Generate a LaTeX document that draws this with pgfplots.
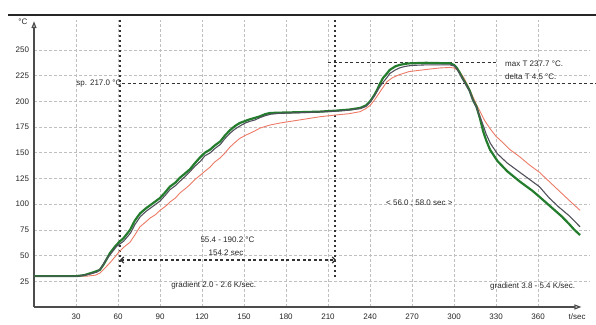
\documentclass[border=0pt]{standalone}
\usepackage{fontspec}
\setmainfont{Liberation Sans}
\usepackage{pgfplots}
\pgfplotsset{compat=1.18}
\usetikzlibrary{arrows.meta}
\definecolor{cgreen}{RGB}{35,125,45}
\definecolor{cgray}{RGB}{80,80,92}
\definecolor{cred}{RGB}{236,122,102}
\begin{document}
\begin{tikzpicture}
\begin{axis}[
  x=1.4pt, y=1.028pt,
  xmin=0, xmax=397, ymin=0, ymax=279,
  axis line style={draw=none},
  xtick={30,60,...,360}, ytick={25,50,...,250},
  major tick length=0pt,
  grid=major,
  grid style={black!25, dash pattern=on 2.5pt off 2.5pt, line width=0.6pt},
  tick label style={font=\fontsize{8}{9}\selectfont, text=black!85},
  /pgf/number format/assume math mode=true,
  xticklabel style={yshift=-3pt},
  yticklabel style={xshift=-1.5pt},
  clip=false,
  every axis plot/.append style={line join=round},
]
% frame line and axes
\draw[line width=1.4pt, black!85] (axis cs:-18.6,284) -- (axis cs:401.4,284);
\draw[line width=1.2pt, black!70, -{Triangle[open,length=7pt,width=5pt]}] (axis cs:0,0) -- (axis cs:391,0);
\draw[line width=1.2pt, black!70, -{Triangle[open,length=7pt,width=5pt]}] (axis cs:0,0) -- (axis cs:0,278);

% annotation lines
\draw[black!80, line width=1.1pt, dash pattern=on 2.5pt off 2.5pt] (axis cs:61.4,29) -- (axis cs:61.4,281);
\draw[black!80, line width=1.1pt, dash pattern=on 2.5pt off 2.5pt] (axis cs:215,29) -- (axis cs:215,281);
\draw[black!80, line width=1.1pt, dash pattern=on 3pt off 2.5pt] (axis cs:63,217) -- (axis cs:401.4,217);
\draw[black!80, line width=1.1pt, dash pattern=on 3pt off 2.5pt] (axis cs:210,237.7) -- (axis cs:330,237.7);
\draw[black!80, line width=1.1pt, dash pattern=on 3pt off 2.5pt, {Straight Barb[length=3pt,width=6pt]}-{Straight Barb[length=3pt,width=6pt]}] (axis cs:61.4,45.7) -- (axis cs:215.7,45.7);

% series
\addplot[cred, line width=0.9pt] coordinates {
(0,30) (38,30) (44,31) (47.1,33) (50,37) (54.3,43) (58,49) (60.7,53.5) (64,58) (68.6,63) (72,70) (75.7,78) (80,83) (83,86.6) (87,90) (90,94) (94,98) (97,102) (101,106) (104.3,111) (108,115) (111.4,119) (115,124) (118.6,128) (122,132) (125.7,136) (129,141) (133,145) (136.5,150) (140,155.6) (143.5,160) (147,164) (151,167) (154.3,169) (158,171.5) (161.4,174) (168.6,177) (176,179) (190,182) (204,185) (216,186.8) (225,188) (233,190) (237,193) (240,196) (243,201) (246,207) (249,213) (252,219) (256,223) (261,226) (268,229) (280,231) (290,232.5) (297,233) (300,232.5) (304,229) (307,223) (310,215) (313,206) (316,197) (319,189) (322,181) (326,173) (330,166) (334,161) (340,153) (347,146) (354,138) (361,131) (368,122) (375,113) (382,104) (390,94)
};
\addplot[cgreen, line width=2.2pt] coordinates {
(0,30) (30,30) (36,31) (43,34) (47,36) (50,42) (54.3,52.5) (58,59) (60.7,63) (64,67) (68.6,75) (72,84) (75.7,91) (80,96) (83,99) (87,103) (90,106) (94,112) (97,117) (101,121) (104,125.5) (108,130) (111.4,134) (115,140) (118.6,145.5) (122,150) (125.7,153) (129,157) (133,161) (136.5,167) (140,172) (143.5,176) (147,179) (151,181) (154,182.5) (158,184) (161.4,185.5) (165,187.5) (168.6,188.7) (175,189) (190,189.5) (204,190) (216,191) (225,192) (233,193.6) (237,196) (240,200) (243,206) (245,211) (247,217) (249.3,222.8) (252,227) (254,230.5) (258,234) (261,235.4) (265,236.5) (268.6,237) (280,237.5) (297,237) (300,235.5) (302,232.5) (304,228) (306,222.7) (308.5,217) (311,211) (313.6,201) (316,195) (318.6,183) (321,170) (323,162) (325.7,153) (331,142) (338,132) (347,122) (356,113) (362,106) (367,100) (372,94) (377,88) (382,81) (386,75) (390,70)
};
\addplot[cgray, line width=1.1pt] coordinates {
(0,30) (32,30) (40,32) (45,34) (48,38) (51,45) (55,52) (59,59) (61,61) (64,64) (69,72) (72,80) (76,88) (80,93) (83,96) (87,100) (90,103) (94,109) (97,114) (101,118) (104,122) (108,127) (111,131) (115,137) (119,142) (122,147) (126,150) (129,154) (133,158) (136.5,164) (140,169) (143.5,173) (147,176) (151,179) (154,180.5) (158,182) (161,184) (165,186) (169,187.5) (175,188.3) (190,189) (204,189.7) (216,190.5) (225,191.5) (233,193) (237,195) (240,199) (243,205) (246,212) (249,218) (252,223) (254,227) (258,230.5) (261,232.5) (265,234) (270,235) (280,235.5) (297,235.5) (300,234.5) (302,231.5) (304,227) (306,222) (308.5,216) (311,210) (313.6,201) (316,194) (318.6,185) (321,176) (323,168) (326,159) (331,149) (338,140) (347,131) (354,124) (361,117) (368,106) (375,97) (382,89) (390,78)
};

% texts
\begin{scope}[every node/.style={font=\fontsize{8}{9}\selectfont, text=black!85, inner sep=0pt}]
\node at (axis cs:-7.9,277.2) {°C};
\node at (axis cs:387.9,-9.7) {t/sec};
\node[anchor=east] at (axis cs:62.5,217.2) {sp. 217.0 °C};
\node[anchor=west] at (axis cs:336.4,236.4) {max T 237.7 °C.};
\node[anchor=west] at (axis cs:336.4,224.2) {delta T 4.5 °C.};
\node at (axis cs:138.2,65.2) {55.4 - 190.2 °C};
\node at (axis cs:137.1,52.8) {154.2 sec};
\node[anchor=west] at (axis cs:97.9,20.9) {gradient 2.0 - 2.6 K/sec.};
\node[anchor=west] at (axis cs:251.4,101.2) {< 56.0 ; 58.0 sec >};
\node[anchor=west] at (axis cs:325.7,19.9) {gradient 3.8 - 5.4 K/sec.};
\end{scope}

\coordinate (bl) at (axis cs:-24.29,-17.5);
\coordinate (tr) at (axis cs:401.4,298.6);
\end{axis}
\pgfresetboundingbox
\useasboundingbox (bl) rectangle (tr);
\end{tikzpicture}
\end{document}
